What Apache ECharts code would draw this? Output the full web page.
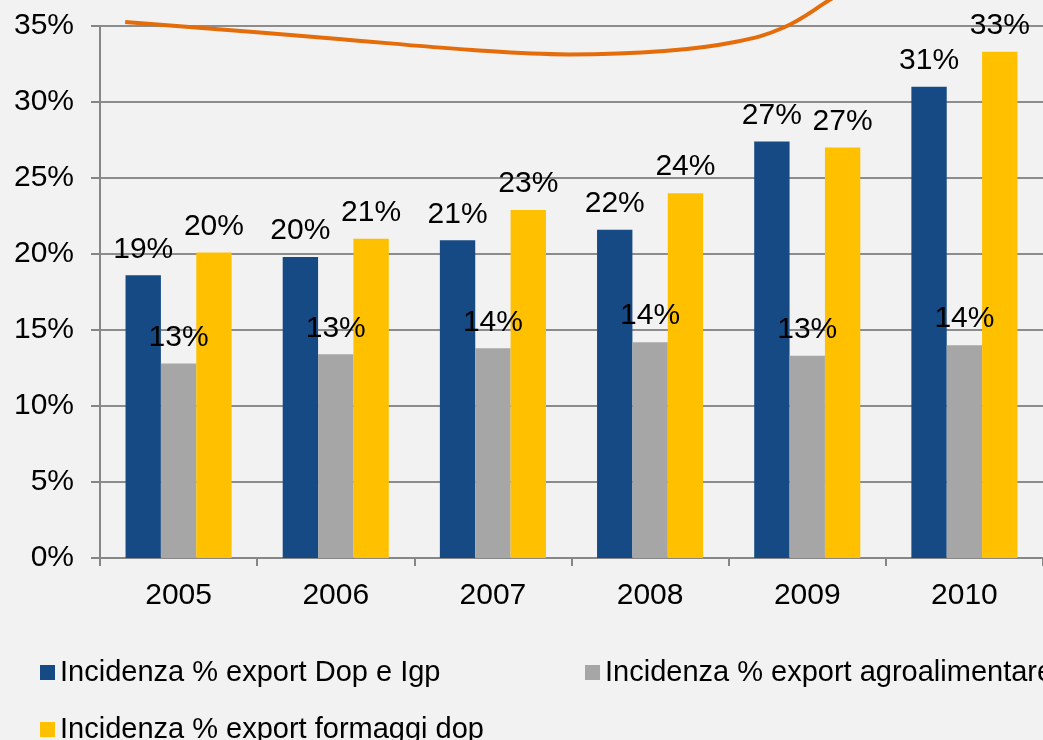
<!doctype html>
<html>
<head>
<meta charset="UTF-8">
<title>Incidenza export</title>
<script src="https://cdn.jsdelivr.net/npm/echarts@6/dist/echarts.min.js"></script>
<style>
  html, body { margin: 0; padding: 0; background: #f2f2f2; }
  #chart { width: 1043px; height: 740px; }
</style>
</head>
<body>
<div id="chart"></div>
<script>
// anni
var anni = ['2005', '2006', '2007', '2008', '2009', '2010'];
// valori (%)
var dopIgp = [18.6, 19.8, 20.9, 21.6, 27.4, 31.0];
var agroalimentare = [12.8, 13.4, 13.8, 14.2, 13.3, 14.0];
var formaggiDop = [20.1, 21.0, 22.9, 24.0, 27.0, 33.3];
var nomi = ['Incidenza % export Dop e Igp', 'Incidenza % export agroalimentare', 'Incidenza % export formaggi dop'];
// curva arancione decorativa (x in unità di categoria, y in %)
var curvaX = [-0.34, 0.96, 1.87, 2.48, 3.09, 3.54, 3.85, 4.14, 4.27];
var curvaY = [35.26, 34.2, 33.42, 33.13, 33.35, 33.95, 34.9, 36.7, 37.6];

var font = "'Liberation Sans', Arial, sans-serif";

var chart = echarts.init(document.getElementById('chart'));

var label = {
  show: true,
  position: 'top',
  distance: 11,
  color: '#000',
  fontFamily: font,
  fontSize: 30,
  formatter: function (p) { return Math.round(p.value) + '%'; }
};

function legenda(nome, left, top) {
  return {
    data: [nome],
    left: left,
    top: top,
    icon: 'rect',
    itemWidth: 15,
    itemHeight: 15,
    selectedMode: false,
    textStyle: { color: '#000', fontFamily: font, fontSize: 29 }
  };
}

var option = {
  backgroundColor: '#f2f2f2',
  animation: false,
  legend: [
    legenda(nomi[0], 35, 653),
    legenda(nomi[1], 580, 653),
    legenda(nomi[2], 35, 710)
  ],
  grid: { left: 100, right: -13, top: 26, bottom: 182, containLabel: false },
  xAxis: [{
    type: 'category',
    data: anni,
    axisLine: { lineStyle: { color: '#868686', width: 2 } },
    axisTick: { show: true, length: 8, lineStyle: { color: '#868686', width: 2 } },
    axisLabel: { color: '#000', fontFamily: font, fontSize: 30, margin: 23 }
  }, {
    type: 'value',
    min: -0.5,
    max: 5.5,
    show: false
  }],
  yAxis: {
    type: 'value',
    min: 0,
    max: 35,
    interval: 5,
    axisLine: { show: true, onZero: false, lineStyle: { color: '#868686', width: 2 } },
    axisTick: { show: true, length: 9, lineStyle: { color: '#868686', width: 2 } },
    axisLabel: { color: '#000', fontFamily: font, fontSize: 30, margin: 26, formatter: '{value}%' },
    splitLine: { lineStyle: { color: '#8c8c8c', width: 2 } }
  },
  series: [{
    name: nomi[0],
    type: 'bar',
    data: dopIgp,
    barGap: '0%',
    barCategoryGap: '32.5%',
    itemStyle: { color: '#164a85' },
    label: label
  }, {
    name: nomi[1],
    type: 'bar',
    data: agroalimentare,
    itemStyle: { color: '#a6a6a6' },
    label: label
  }, {
    name: nomi[2],
    type: 'bar',
    data: formaggiDop,
    itemStyle: { color: '#ffc000' },
    label: label
  }, {
    name: 'curva',
    type: 'line',
    xAxisIndex: 1,
    data: curvaX.map(function (x, i) { return [x, curvaY[i]]; }),
    smooth: 0.4,
    symbol: 'none',
    clip: false,
    silent: true,
    z: 5,
    lineStyle: { color: '#e46c0a', width: 4, cap: 'butt' }
  }]
};

chart.setOption(option);
</script>
</body>
</html>
